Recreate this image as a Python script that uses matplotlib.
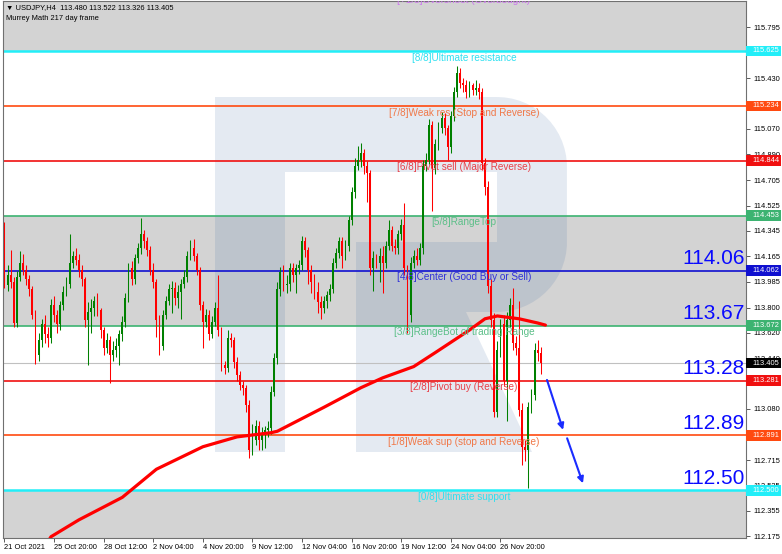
import numpy as np
import matplotlib.pyplot as plt
import matplotlib.transforms as mtransforms
from matplotlib.patches import Rectangle, Polygon

plt.rcParams['font.family'] = ['Liberation Sans', 'DejaVu Sans']

# velas H4 (precio de cierre, maximo, minimo); la apertura es el cierre anterior
first_open = 114.25
closes = [
    113.96, 114.03, 113.98, 113.69, 114.02, 114.12, 114.07, 114.00, 113.93, 113.75,
    113.46, 113.57, 113.68, 113.61, 113.58, 113.82, 113.75, 113.68, 113.82, 113.91,
    113.97, 114.12, 114.17, 114.14, 114.07, 114.00, 113.71, 113.77, 113.80, 113.85,
    113.78, 113.64, 113.51, 113.57, 113.46, 113.50, 113.53, 113.61, 113.70, 113.87,
    114.08, 114.00, 114.15, 114.22, 114.32,
    114.27, 114.21, 114.07, 113.98, 113.71, 113.53, 113.75, 113.85, 113.93, 113.94,
    113.87, 113.91, 113.97, 114.02, 114.17, 114.22, 114.17, 114.07, 113.82, 113.70,
    113.75, 113.61, 113.70, 113.80, 113.64, 113.39, 113.37, 113.58, 113.57, 113.41,
    113.32, 113.25, 113.23, 113.11, 112.79, 112.86, 112.96, 112.86, 112.91, 112.93,
    112.94, 113.20, 113.44, 113.93,
    114.05, 113.96, 113.97, 114.08, 114.03, 114.08, 114.10, 114.27, 114.21, 114.07,
    113.98, 113.91, 113.84, 113.80, 113.85, 113.89, 113.93, 114.12, 114.19, 114.27,
    114.17, 114.24, 114.42, 114.62, 114.81, 114.85, 114.90, 114.81, 114.76, 114.08,
    114.15, 114.12, 114.17, 114.12, 114.24, 114.35, 114.24, 114.22, 114.32, 114.39,
    114.08, 113.75,
    114.12, 114.17, 114.14, 114.22, 114.81, 114.85, 115.10, 114.79, 114.96, 115.08,
    115.15, 115.08, 114.94, 115.16, 115.33, 115.47, 115.40, 115.38, 115.33, 115.38,
    115.35, 115.36, 115.33, 114.83, 114.66, 113.95, 113.71, 113.06, 113.50, 113.68,
    113.28, 113.71, 113.82, 113.55, 113.51, 113.07, 112.81, 112.79, 113.09, 113.18,
    113.50, 113.48, 113.405,
]
highs = [
    114.41, 114.10, 114.21, 114.02, 114.06, 114.20, 114.18, 114.10, 114.03, 113.95,
    113.78, 113.62, 113.72, 113.75, 113.66, 113.86, 113.88, 113.78, 113.85, 113.95,
    114.02, 114.32, 114.20, 114.22, 114.18, 114.10, 114.02, 113.84, 113.86, 113.88,
    113.90, 113.80, 113.66, 113.62, 113.60, 113.56, 113.58, 113.64, 113.74, 113.90,
    114.12, 114.13, 114.18, 114.26, 114.44,
    114.35, 114.30, 114.24, 114.12, 114.00, 113.75, 113.78, 113.88, 113.97, 113.99,
    113.98, 113.96, 114.00, 114.07, 114.20, 114.28, 114.29, 114.19, 114.09, 113.85,
    113.79, 113.78, 113.74, 113.84, 114.03, 113.66, 113.42, 113.64, 113.62, 113.59,
    113.45, 113.35, 113.28, 113.25, 113.14, 112.97, 113.00, 112.99, 112.95, 112.96,
    112.99, 113.24, 113.48, 113.98,
    114.09, 114.10, 114.03, 114.12, 114.12, 114.11, 114.14, 114.31, 114.30, 114.23,
    114.10, 114.04, 113.98, 113.88, 113.88, 113.92, 113.97, 114.15, 114.22, 114.30,
    114.30, 114.28, 114.45, 114.66, 114.86, 114.95, 114.97, 114.93, 114.84, 114.78,
    114.20, 114.18, 114.22, 114.24, 114.27, 114.42, 114.38, 114.29, 114.35, 114.43,
    114.54, 114.10,
    114.16, 114.21, 114.22, 114.26, 114.85, 114.90, 115.14, 115.13, 115.00, 115.12,
    115.19, 115.18, 115.10, 115.20, 115.37, 115.52, 115.50, 115.43, 115.42, 115.41,
    115.40, 115.42, 115.40, 115.36, 114.86, 114.70, 114.00, 113.76, 113.56, 113.72,
    113.75, 113.77, 113.87, 113.94, 113.60, 113.85, 113.12, 112.86, 113.13, 113.22,
    113.55, 113.57, 113.522,
]
lows = [
    113.94, 113.92, 113.94, 113.66, 113.66, 113.99, 114.03, 113.96, 113.88, 113.72,
    113.40, 113.42, 113.52, 113.55, 113.52, 113.55, 113.70, 113.62, 113.64, 113.78,
    113.88, 113.94, 114.08, 114.10, 114.02, 113.95, 113.66, 113.39, 113.62, 113.74,
    113.74, 113.58, 113.46, 113.48, 113.26, 113.42, 113.45, 113.39, 113.56, 113.66,
    113.84, 113.96, 113.97, 114.12, 114.18,
    114.22, 114.17, 114.03, 113.94, 113.59, 113.46, 113.50, 113.72, 113.82, 113.76,
    113.82, 113.80, 113.72, 113.94, 113.98, 114.14, 114.13, 114.03, 113.78, 113.51,
    113.66, 113.57, 113.58, 113.67, 113.60, 113.35, 113.33, 113.34, 113.52, 113.37,
    113.28, 113.21, 113.18, 113.06, 112.73, 112.75, 112.82, 112.79, 112.79, 112.80,
    112.88, 112.90, 113.17, 113.40,
    113.88, 113.92, 113.90, 113.92, 113.98, 113.90, 114.04, 114.07, 114.16, 113.97,
    113.90, 113.86, 113.76, 113.72, 113.76, 113.80, 113.85, 113.90, 114.08, 114.15,
    114.08, 114.14, 114.20, 114.39, 114.58, 114.78, 114.80, 114.75, 114.55, 114.03,
    113.92, 114.08, 113.98, 113.90, 114.08, 114.21, 114.20, 114.18, 114.18, 114.28,
    114.03, 113.62,
    113.70, 114.08, 114.10, 114.10, 114.18, 114.77, 114.82, 114.49, 114.75, 114.92,
    115.04, 115.03, 114.85, 114.90, 115.13, 115.30, 115.36, 115.33, 115.29, 115.30,
    115.31, 115.31, 115.28, 114.78, 114.60, 113.90, 113.66, 113.02, 113.02, 113.45,
    113.24, 112.99, 113.66, 113.50, 113.46, 113.03, 112.68, 112.71, 112.52, 113.05,
    113.14, 113.42, 113.326,
]

# media movil
ma_bars = [10, 15, 24, 38, 49, 64, 75, 86, 88, 103, 115, 122, 132, 139, 150, 155, 159, 166, 172, 174.5]
ma_vals = [111.99, 112.17, 112.29, 112.45, 112.65, 112.81, 112.88, 112.91, 112.92, 113.09,
           113.23, 113.30, 113.38, 113.48, 113.64, 113.72, 113.74, 113.72, 113.69, 113.675]

# niveles de Murrey
mm_levels = [116.016, 115.625, 115.234, 114.844, 114.453, 114.062, 113.672, 113.281, 112.891, 112.500]
mm_names = ["[+1/8]Overshoot (Overbought)", "[8/8]Ultimate resistance", "[7/8]Weak res (Stop and Reverse)",
            "[6/8]Pivot sell (Major Reverse)", "[5/8]RangeTop", "[4/8]Center (Good Buy or Sell)",
            "[3/8]RangeBot of trading Range", "[2/8]Pivot buy (Reverse)",
            "[1/8]Weak sup (stop and Reverse)", "[0/8]Ultimate support"]
mm_colors = ["#cc77ee", "#22eef8", "#ff4a10", "#f01010", "#3cb371", "#1010d0",
             "#3cb371", "#f01010", "#ff4a10", "#22eef8"]
mm_text_colors = ["#cc77ee", "#30e0f0", "#f07848", "#e8404a", "#5cbf88", "#3030d8",
                  "#5cbf88", "#e8404a", "#f07848", "#30e0f0"]

big_texts = ["114.06", "113.67", "113.28", "112.89", "112.50"]
big_levels = [114.062, 113.672, 113.281, 112.891, 112.500]

bid = 113.405
# las marcas tapadas por las etiquetas de color no se dibujan
price_ticks = [115.795, 115.430, 115.070, 114.890, 114.705, 114.525, 114.345,
               114.165, 113.985, 113.800, 113.620, 113.440, 113.080, 112.715,
               112.535, 112.355, 112.175]
time_ticks = [0, 16, 32, 48, 64, 80, 96, 112, 128, 144, 160]
time_labels = ["21 Oct 2021", "25 Oct 20:00", "28 Oct 12:00", "2 Nov 04:00", "4 Nov 20:00",
               "9 Nov 12:00", "12 Nov 04:00", "16 Nov 20:00", "19 Nov 12:00", "24 Nov 04:00",
               "26 Nov 20:00"]

# flechas de prevision (barra, precio)
arrow_starts = [(175.0, 113.285), (181.5, 112.87)]
arrow_ends = [(180.2, 112.93), (186.6, 112.55)]

W, H = 782, 554
fig = plt.figure(figsize=(W / 100, H / 100), dpi=100)
ax = fig.add_axes([3 / W, 16 / H, 743 / W, 537 / H])
ax.set_xlim(-0.48, 239.2)
ax.set_ylim(112.161, 115.980)


def px(x, y):
    # pixel de la imagen -> coordenadas de ejes
    return ((x - 3) / 743, (538 - y) / 537)


# zonas grises
gray = "#d3d3d3"
ax.axhspan(115.625, 117, color=gray, lw=0, zorder=0)
ax.axhspan(113.672, 114.453, color=gray, lw=0, zorder=0)
ax.axhspan(111, 112.5, color=gray, lw=0, zorder=0)

# logo de fondo
logo_kw = dict(transform=ax.transAxes, fc="#3060a0", alpha=0.13, lw=0, zorder=0.5)
ax.add_patch(Polygon([px(215, 97), px(285, 97), px(285, 452), px(215, 452)], **logo_kw))
ax.add_patch(Polygon([px(285, 97), px(497, 97), px(497, 172), px(285, 172)], **logo_kw))
t = np.linspace(np.pi / 2, -np.pi / 2, 30)
bowl = [px(497, 97)] + [px(497 + 70 * np.cos(a), 167 - 70 * np.sin(a)) for a in t[:15]]
bowl += [px(497 + 70 * np.cos(a), 242 - 70 * np.sin(a)) for a in t[15:]] + [px(497, 312)]
ax.add_patch(Polygon(bowl, **logo_kw))
ax.add_patch(Polygon([px(356, 242), px(497, 242), px(497, 312), px(356, 312)], **logo_kw))
ax.add_patch(Polygon([px(356, 312), px(466, 312), px(532, 452), px(356, 452)], **logo_kw))

# lineas de Murrey
for lvl, col in zip(mm_levels, mm_colors):
    lw = 1.8 if col == "#22eef8" else 1.2
    ax.axhline(lvl, color=col, lw=lw, zorder=2)
ax.axhline(bid, color="#c0c0c0", lw=0.8, zorder=1.5)

for i, (lvl, name, col) in enumerate(zip(mm_levels, mm_names, mm_text_colors)):
    # la etiqueta +1/8 queda casi fuera por arriba
    y = lvl + 0.010 if i == 0 else lvl - 0.012
    ax.text(148.2, y, name, color=col, fontsize=7.2, ha="center", va="top",
            zorder=6, clip_on=True)

# velas
x = np.arange(len(closes))
c = np.array(closes)
o = np.array([first_open] + closes[:-1])
hi = np.maximum(np.array(highs), np.maximum(o, c))
lo = np.minimum(np.array(lows), np.minimum(o, c))
up = c >= o
cols = np.where(up, "#008000", "#ff0000")
ax.vlines(x, lo, hi, colors=cols, lw=0.75, zorder=3)
body_h = np.maximum(np.abs(c - o), 0.005)
ax.bar(x, body_h, bottom=np.minimum(o, c), width=0.62, color=cols, lw=0, zorder=3)

# media movil
ax.plot(ma_bars, ma_vals, color="#ff0000", lw=2.3, solid_capstyle="round", zorder=4)

# flechas
for s, e in zip(arrow_starts, arrow_ends):
    ax.annotate("", xy=e, xytext=s,
                arrowprops=dict(arrowstyle="-|>", color="#1a2cff", lw=1.5, mutation_scale=9,
                                shrinkA=0, shrinkB=0), zorder=6)

# precios grandes
for txt, lvl in zip(big_texts, big_levels):
    ax.text(238.7, lvl + 0.02, txt, color="#0a0aff", fontsize=15, ha="right", va="bottom", zorder=6)

# cabecera
ax.text(*px(6, 8), "\u25bc USDJPY,H4  113.480 113.522 113.326 113.405", transform=ax.transAxes,
        fontsize=5.4, va="center", ha="left", zorder=7)
ax.text(*px(6, 19), "Murrey Math 217 day frame", transform=ax.transAxes,
        fontsize=5.4, va="center", ha="left", zorder=7)

# ejes
for sp in ax.spines.values():
    sp.set_color("#707070")
    sp.set_linewidth(0.8)
ax.yaxis.tick_right()
ax.set_yticks(price_ticks)
ax.set_yticklabels([f"{v:.3f}" for v in price_ticks])
ax.tick_params(axis="y", length=3, width=0.6, color="#404040", labelsize=5.4, pad=2)
ax.set_xticks(time_ticks)
ax.set_xticklabels(time_labels)
ax.tick_params(axis="x", length=3, width=0.6, color="#404040", labelsize=5.4, pad=1.5)
for lab in ax.get_xticklabels():
    lab.set_horizontalalignment("left")

# etiquetas de color a la derecha
trans = mtransforms.blended_transform_factory(ax.transAxes, ax.transData)
box_levels = mm_levels[1:] + [bid]
box_colors = mm_colors[1:] + ["#000000"]
for lvl, col in zip(box_levels, box_colors):
    ax.add_patch(Rectangle((1.0, lvl - 0.037), 35 / 743, 0.075, transform=trans, fc=col, lw=0,
                           clip_on=False, zorder=10))
    ax.text(1 + 6 / 743, lvl, f"{lvl:.3f}", transform=trans, color="white", fontsize=5.4,
            va="center", ha="left", zorder=11, clip_on=False)

fig.savefig("out.png", dpi=100)
